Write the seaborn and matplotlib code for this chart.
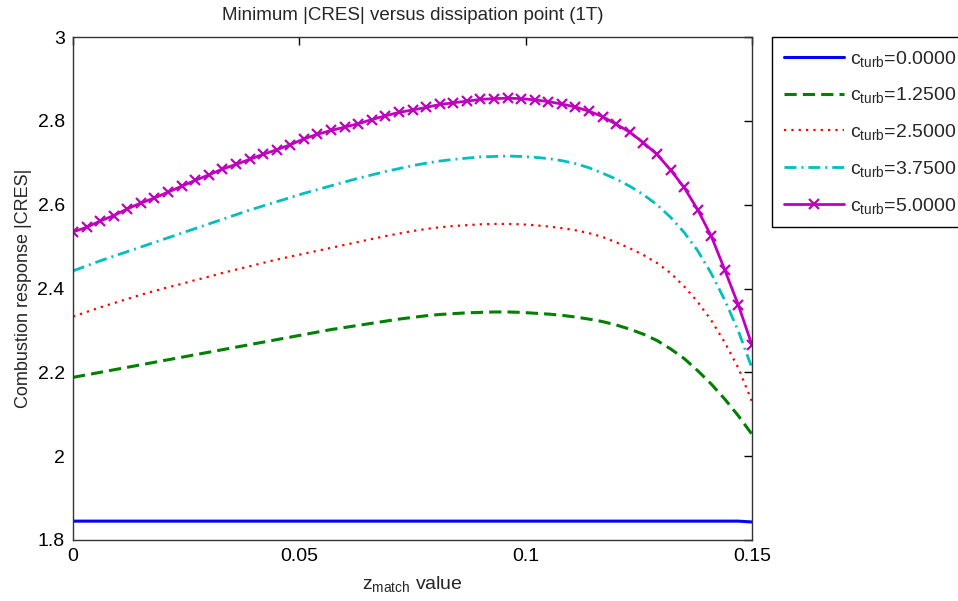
import matplotlib
matplotlib.use("Agg")
import matplotlib.pyplot as plt
import seaborn as sns
import numpy as np
import pandas as pd

# ---------------- data ----------------
z_match = [0.000, 0.003, 0.006, 0.009, 0.012, 0.015, 0.018, 0.021, 0.024, 0.027,
           0.030, 0.033, 0.036, 0.039, 0.042, 0.045, 0.048, 0.051, 0.054, 0.057,
           0.060, 0.063, 0.066, 0.069, 0.072, 0.075, 0.078, 0.081, 0.084, 0.087,
           0.090, 0.093, 0.096, 0.099, 0.102, 0.105, 0.108, 0.111, 0.114, 0.117,
           0.120, 0.123, 0.126, 0.129, 0.132, 0.135, 0.138, 0.141, 0.144, 0.147,
           0.150]

cres_c0000 = [1.845] * 50 + [1.843]

cres_c1250 = [2.188, 2.194, 2.200, 2.206, 2.212, 2.218, 2.224, 2.230, 2.236, 2.242,
              2.248, 2.254, 2.260, 2.266, 2.272, 2.278, 2.284, 2.290, 2.296, 2.302,
              2.307, 2.312, 2.317, 2.322, 2.327, 2.331, 2.335, 2.338, 2.340, 2.342,
              2.343, 2.344, 2.344, 2.343, 2.341, 2.339, 2.336, 2.332, 2.327, 2.321,
              2.313, 2.303, 2.291, 2.276, 2.256, 2.233, 2.204, 2.172, 2.136, 2.096,
              2.052]

cres_c2500 = [2.333, 2.344, 2.355, 2.365, 2.375, 2.385, 2.394, 2.403, 2.411, 2.420,
              2.428, 2.437, 2.445, 2.453, 2.461, 2.469, 2.476, 2.483, 2.490, 2.497,
              2.504, 2.511, 2.518, 2.525, 2.531, 2.537, 2.542, 2.546, 2.549, 2.551,
              2.553, 2.554, 2.554, 2.553, 2.551, 2.548, 2.544, 2.539, 2.532, 2.523,
              2.510, 2.496, 2.480, 2.461, 2.437, 2.405, 2.368, 2.324, 2.271, 2.210,
              2.130]

cres_c3750 = [2.442, 2.454, 2.466, 2.477, 2.488, 2.499, 2.510, 2.521, 2.532, 2.543,
              2.554, 2.565, 2.576, 2.587, 2.597, 2.607, 2.617, 2.627, 2.636, 2.645,
              2.654, 2.663, 2.671, 2.679, 2.686, 2.693, 2.699, 2.704, 2.708, 2.711,
              2.714, 2.715, 2.716, 2.715, 2.713, 2.710, 2.705, 2.698, 2.688, 2.675,
              2.661, 2.644, 2.624, 2.600, 2.570, 2.534, 2.490, 2.436, 2.372, 2.298,
              2.210]

cres_c5000 = [2.535, 2.546, 2.561, 2.574, 2.590, 2.604, 2.616, 2.630, 2.644, 2.658,
              2.671, 2.685, 2.696, 2.708, 2.720, 2.731, 2.743, 2.757, 2.768, 2.777,
              2.785, 2.793, 2.803, 2.812, 2.820, 2.826, 2.832, 2.839, 2.843, 2.847,
              2.851, 2.853, 2.854, 2.853, 2.850, 2.846, 2.840, 2.833, 2.823, 2.810,
              2.792, 2.773, 2.748, 2.720, 2.683, 2.641, 2.588, 2.525, 2.444, 2.360,
              2.265]

legend_labels = [r"c$_{\mathrm{turb}}$=0.0000", r"c$_{\mathrm{turb}}$=1.2500",
                 r"c$_{\mathrm{turb}}$=2.5000", r"c$_{\mathrm{turb}}$=3.7500",
                 r"c$_{\mathrm{turb}}$=5.0000"]
x_ticks = [0, 0.05, 0.1, 0.15]
x_tick_labels = ["0", "0.05", "0.1", "0.15"]
y_ticks = [1.8, 2.0, 2.2, 2.4, 2.6, 2.8, 3.0]
y_tick_labels = ["1.8", "2", "2.2", "2.4", "2.6", "2.8", "3"]

# ---------------- style ----------------
sns.set_style("white")
plt.rcParams["font.family"] = ["Liberation Sans", "DejaVu Sans"]
plt.rcParams["mathtext.fontset"] = "custom"
plt.rcParams["mathtext.rm"] = "Liberation Sans"
plt.rcParams["mathtext.it"] = "Liberation Sans"
plt.rcParams["xtick.direction"] = "in"
plt.rcParams["ytick.direction"] = "in"

fig = plt.figure(figsize=(9.58, 6.01), dpi=100)
ax = fig.add_axes([73 / 958, 1 - 540 / 601, (752 - 73) / 958, (540 - 37) / 601])

series = [cres_c0000, cres_c1250, cres_c2500, cres_c3750, cres_c5000]
colors = ["#0000ff", "#008000", "#ff0000", "#00bfbf", "#bf00bf"]
styles = [dict(linestyle="-", linewidth=2.2),
          dict(linestyle=(0, (4, 2)), linewidth=2.2),
          dict(linestyle=(0, (1, 2.3)), linewidth=1.6),
          dict(linestyle=(0, (4.3, 1.8, 0.7, 1.8)), linewidth=2.0),
          dict(linestyle="-", linewidth=2.0, marker="x", markersize=7,
               markeredgewidth=1.6)]

for vals, col, st, lab in zip(series, colors, styles, legend_labels):
    df = pd.DataFrame({"z": z_match, "cres": vals})
    extra = {}
    if "marker" in st:
        extra = dict(markeredgecolor=col, markerfacecolor=col)
    sns.lineplot(data=df, x="z", y="cres", ax=ax, color=col, label=lab,
                 estimator=None, sort=False, **st, **extra)

ax.set_xlim(0, 0.15)
ax.set_ylim(1.8, 3.0)
ax.set_xticks(x_ticks)
ax.set_xticklabels(x_tick_labels)
ax.set_yticks(y_ticks)
ax.set_yticklabels(y_tick_labels)
ax.tick_params(axis="both", which="both", direction="in", length=6, width=1,
               labelsize=14, top=True, right=True, colors="#000000", pad=6)
for sp in ax.spines.values():
    sp.set_visible(True)
    sp.set_color("#333333")
    sp.set_linewidth(1.0)

ax.set_title("Minimum |CRES| versus dissipation point (1T)", fontsize=13.5, pad=12)
ax.set_xlabel(r"z$_{\mathrm{match}}$ value", fontsize=14, labelpad=6)
ax.set_ylabel("Combustion response |CRES|", fontsize=13, labelpad=4)

leg = ax.legend(loc="upper left", bbox_to_anchor=(772 / 958, 1 - 37 / 601),
                bbox_transform=fig.transFigure, borderaxespad=0, fancybox=False,
                frameon=True, fontsize=14, handlelength=3.1, handletextpad=0.3,
                labelspacing=0.86, borderpad=0.6, framealpha=1)
leg.get_frame().set_edgecolor("#000000")
leg.get_frame().set_linewidth(1.0)
leg.get_frame().set_boxstyle("square", pad=0)

fig.savefig("out.png", dpi=100)
